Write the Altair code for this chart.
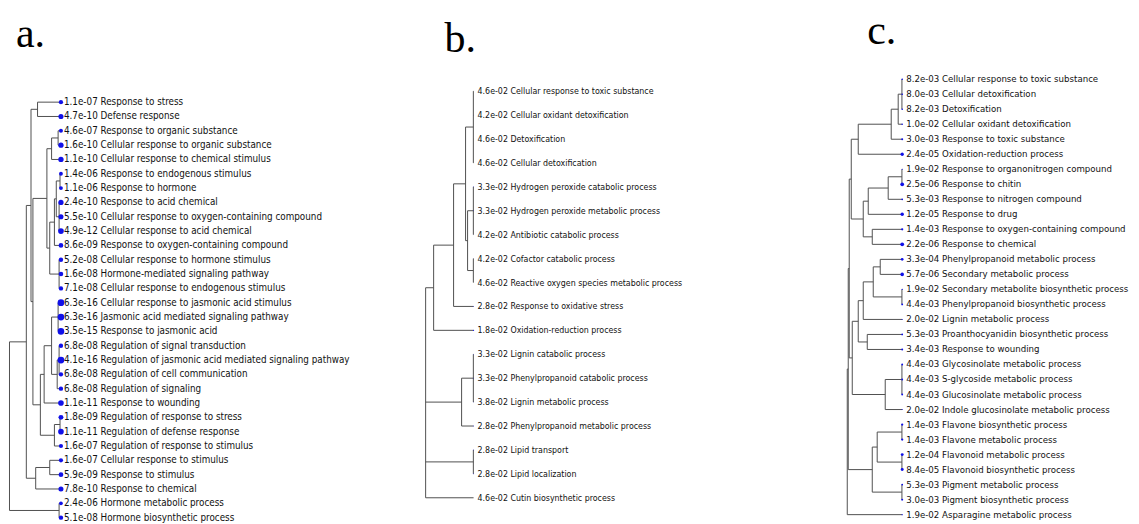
import altair as alt
import pandas as pd
import numpy as np

# ---------------- data ----------------
A_NAMES = ["Response to stress", "Defense response", "Response to organic substance",
           "Cellular response to organic substance", "Cellular response to chemical stimulus",
           "Response to endogenous stimulus", "Response to hormone", "Response to acid chemical",
           "Cellular response to oxygen-containing compound", "Cellular response to acid chemical",
           "Response to oxygen-containing compound", "Cellular response to hormone stimulus",
           "Hormone-mediated signaling pathway", "Cellular response to endogenous stimulus",
           "Cellular response to jasmonic acid stimulus", "Jasmonic acid mediated signaling pathway",
           "Response to jasmonic acid", "Regulation of signal transduction",
           "Regulation of jasmonic acid mediated signaling pathway", "Regulation of cell communication",
           "Regulation of signaling", "Response to wounding", "Regulation of response to stress",
           "Regulation of defense response", "Regulation of response to stimulus",
           "Cellular response to stimulus", "Response to stimulus", "Response to chemical",
           "Hormone metabolic process", "Hormone biosynthetic process"]
A_P = [1.1e-07, 4.7e-10, 4.6e-07, 1.6e-10, 1.1e-10, 1.4e-06, 1.1e-06, 2.4e-10, 5.5e-10, 4.9e-12,
       8.6e-09, 5.2e-08, 1.6e-08, 7.1e-08, 6.3e-16, 6.3e-16, 3.5e-15, 6.8e-08, 4.1e-16, 6.8e-08,
       6.8e-08, 1.1e-11, 1.8e-09, 1.1e-11, 1.6e-07, 1.6e-07, 5.9e-09, 7.8e-10, 2.4e-06, 5.1e-08]
# dendrogram: [merge height, child, child, ...]; ints are leaf numbers
A_TREE = [1.0,
          [0.673,
           [0.582,
            [0.455, 1, 2],
            [0.545,
             [0.273,
              [0.182, [0.055, 3, 4], 5],
              [0.218,
               [0.127, [0.091, [0.018, 6, 7], [0.036, 8, 9, 10]], 11],
               [0.036, 12, 13, 14]]],
             [0.4,
              [0.327,
               [0.182, [0.055, 15, 16, 17], [0.073, [0.036, 18, 19, 20], 21]],
               22],
              [0.127, [0.018, 23, 24], 25]]]],
           [0.491, [0.218, 26, 27], 28]],
          [0.036, 29, 30]]

B_NAMES = ["Cellular response to toxic substance", "Cellular oxidant detoxification", "Detoxification",
           "Cellular detoxification", "Hydrogen peroxide catabolic process",
           "Hydrogen peroxide metabolic process", "Antibiotic catabolic process",
           "Cofactor catabolic process", "Reactive oxygen species metabolic process",
           "Response to oxidative stress", "Oxidation-reduction process", "Lignin catabolic process",
           "Phenylpropanoid catabolic process", "Lignin metabolic process",
           "Phenylpropanoid metabolic process", "Lipid transport", "Lipid localization",
           "Cutin biosynthetic process"]
B_P = [4.6e-02, 4.2e-02, 4.6e-02, 4.6e-02, 3.3e-02, 3.3e-02, 4.2e-02, 4.2e-02, 4.6e-02,
       2.8e-02, 1.8e-02, 3.3e-02, 3.3e-02, 3.8e-02, 2.8e-02, 2.8e-02, 2.8e-02, 4.6e-02]
B_TREE = [1.0,
          [0.833,
           [0.417,
            [0.167,
             [0.005, 1, 2, 3, 4],
             [0.125, [0.005, 5, 6, 7], [0.005, 8, 9]]],
            10],
           11],
          [0.25, [0.005, 12, 13, 14], 15],
          [0.005, 16, 17],
          18]

C_NAMES = ["Cellular response to toxic substance", "Cellular detoxification", "Detoxification",
           "Cellular oxidant detoxification", "Response to toxic substance",
           "Oxidation-reduction process", "Response to organonitrogen compound", "Response to chitin",
           "Response to nitrogen compound", "Response to drug", "Response to oxygen-containing compound",
           "Response to chemical", "Phenylpropanoid metabolic process", "Secondary metabolic process",
           "Secondary metabolite biosynthetic process", "Phenylpropanoid biosynthetic process",
           "Lignin metabolic process", "Proanthocyanidin biosynthetic process", "Response to wounding",
           "Glycosinolate metabolic process", "S-glycoside metabolic process",
           "Glucosinolate metabolic process", "Indole glucosinolate metabolic process",
           "Flavone biosynthetic process", "Flavone metabolic process", "Flavonoid metabolic process",
           "Flavonoid biosynthetic process", "Pigment metabolic process", "Pigment biosynthetic process",
           "Asparagine metabolic process"]
C_P = [8.2e-03, 8.0e-03, 8.2e-03, 1.0e-02, 3.0e-03, 2.4e-05, 1.9e-02, 2.5e-06, 5.3e-03, 1.2e-05,
       1.4e-03, 2.2e-06, 3.3e-04, 5.7e-06, 1.9e-02, 4.4e-03, 2.0e-02, 5.3e-03, 3.4e-03, 4.4e-03,
       4.4e-03, 4.4e-03, 2.0e-02, 1.4e-03, 1.4e-03, 1.2e-04, 8.4e-05, 5.3e-03, 3.0e-03, 1.9e-02]
C_TREE = [1.0,
          [0.982,
           [0.964,
            [0.927,
             [0.8,
              [0.2, [0.073, [0.005, 1, 2, 3], 4], 5],
              6],
             [0.709,
              [0.618, [0.255, [0.005, 7, 8], 9], 10],
              [0.545, 11, 12]]],
            [0.909,
             [0.8,
              [0.709,
               [0.527, [0.4, 13, 14], [0.005, 15, 16]],
               17],
              [0.636, 18, 19]],
             [0.309, [0.005, 20, 21, 22], 23]]],
           [0.545,
            [0.455, [0.005, 24, 25], [0.005, 26, 27]],
            [0.005, 28, 29]]],
          30]

TITLES = ["a.", "b.", "c."]

LABEL_FONT = "Liberation Sans Narrow, Arial Narrow, DejaVu Sans Condensed, Roboto Condensed, Liberation Sans, sans-serif"


def tree_segments(tree):
    segs = []

    def walk(node):
        if isinstance(node, int):
            return 0.0, float(node)
        h = node[0]
        kids = [walk(c) for c in node[1:]]
        ys = [k[1] for k in kids]
        segs.append({"x": -h, "x2": -h, "y": ys[0], "y2": ys[-1]})
        for kh, ky in kids:
            segs.append({"x": -h, "x2": -kh, "y": ky, "y2": ky})
        return h, (ys[0] + ys[-1]) / 2

    walk(tree)
    return pd.DataFrame(segs)


def panel(names, pvals, tree, title, W, H, leaf_px, root_px, first_px, step, fs, tdx, tdy, dxt):
    k = leaf_px - root_px
    d0 = -leaf_px / k
    xs = alt.Scale(domain=[d0, d0 + W / k], nice=False, zero=False)
    e0 = 1 - first_px / step
    ys = alt.Scale(domain=[e0, e0 + H / step], nice=False, zero=False, reverse=True)

    leaves = pd.DataFrame({
        "x": 0.0,
        "y": np.arange(1, len(names) + 1, dtype=float),
        "label": [f"{p:.1e} {n}" for p, n in zip(pvals, names)],
        "s": -np.log10(np.array(pvals)),
    })
    smin, smax = float(leaves["s"].min()), float(leaves["s"].max())

    X = alt.X("x:Q", scale=xs, axis=None)
    Y = alt.Y("y:Q", scale=ys, axis=None)

    rules = alt.Chart(tree_segments(tree)).mark_rule(color="#505050", strokeWidth=1).encode(
        x=X, x2="x2:Q", y=Y, y2="y2:Q")
    dots = alt.Chart(leaves).mark_circle(color="#1010e8", opacity=1).encode(
        x=X, y=Y,
        size=alt.Size("s:Q", scale=alt.Scale(domain=[smin, smax], range=[0, 46]), legend=None))
    texts = alt.Chart(leaves).mark_text(align="left", baseline="middle", dx=dxt, fontSize=fs,
                                        font=LABEL_FONT, color="#111111").encode(
        x=X, y=Y, text="label:N")
    return alt.layer(rules, dots, texts).properties(
        width=W, height=H,
        title=alt.TitleParams(title, anchor="start", font="Liberation Serif", fontSize=42,
                              fontWeight="normal", color="black", dx=tdx, dy=tdy, offset=0))


TOP = 52
H = 464
pa = panel(A_NAMES, A_P, A_TREE, TITLES[0], 412, H, 52, 0.5, 101 - TOP, 14.34, 9.8, 7, 3, 3)
pb = panel(B_NAMES, B_P, B_TREE, TITLES[1], 420, H, 53, 5, 90 - TOP, 23.94, 8.8, 24, 8, 4)
pc = panel(C_NAMES, C_P, C_TREE, TITLES[2], 291, H, 62, 7, 78 - TOP, 15.03, 9.6, 27, 0, 4)

chart = alt.hconcat(pa, pb, pc, spacing=0, bounds="flush").properties(
    padding={"top": 2, "left": 0, "right": 0, "bottom": 0}).configure_view(strokeWidth=0)

chart.save("out.html", embed_options={"renderer": "svg", "actions": False})
